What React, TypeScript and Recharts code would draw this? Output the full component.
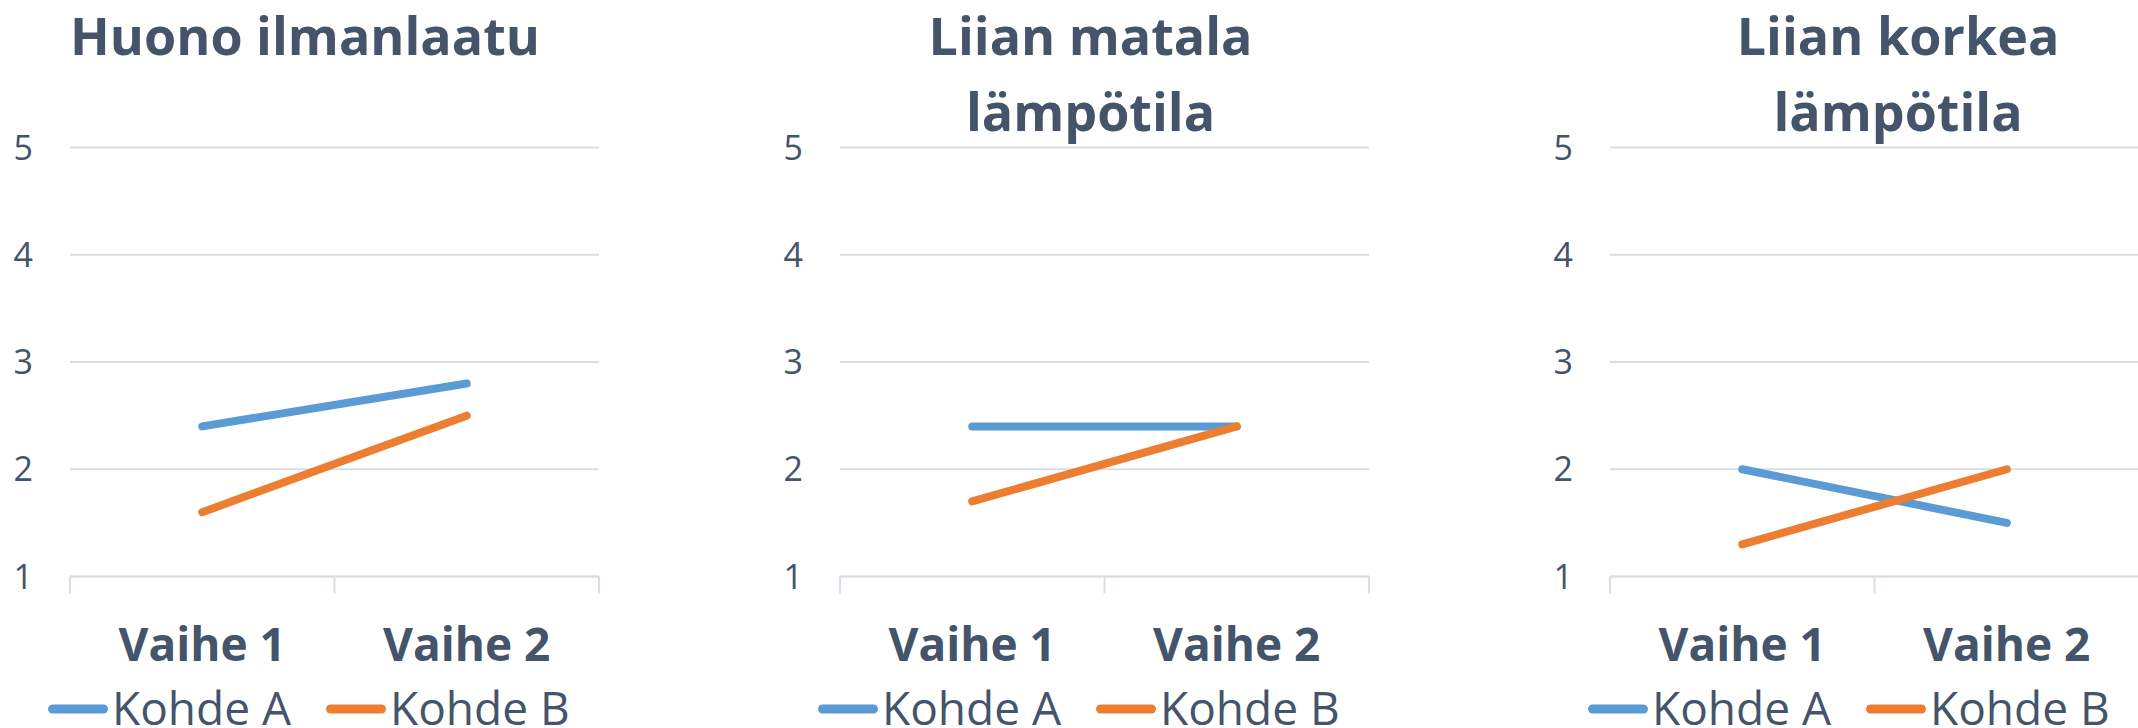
import React from "react";
import { LineChart, Line, XAxis, YAxis, CartesianGrid } from "recharts";

const CATEGORIES = ["Vaihe 1", "Vaihe 2"];
const SERIES = ["Kohde A", "Kohde B"];
const Y_TICKS = [1, 2, 3, 4, 5];

const TITLES = [
  ["Huono ilmanlaatu"],
  ["Liian matala", "lämpötila"],
  ["Liian korkea", "lämpötila"],
];

// values, one array per series per chart
const ILMANLAATU_A = [2.4, 2.8];
const ILMANLAATU_B = [1.6, 2.5];
const MATALA_A = [2.4, 2.4];
const MATALA_B = [1.7, 2.4];
const KORKEA_A = [2.0, 1.5];
const KORKEA_B = [1.3, 2.0];

const PANELS = [
  { title: TITLES[0], a: ILMANLAATU_A, b: ILMANLAATU_B },
  { title: TITLES[1], a: MATALA_A, b: MATALA_B },
  { title: TITLES[2], a: KORKEA_A, b: KORKEA_B },
];

const COLORS = ["#5B9BD5", "#ED7D31"];
const TEXT = "#44546A";
const GRID = "#D9DEE6";
const FONT = "'Open Sans', sans-serif";

// layout
const PANEL_W = 770;
const PANEL_H = 728;
const PLOT_LEFT = 70;
const PLOT_W = 529;
const PLOT_TOP = 147.6;
const PLOT_BOTTOM = 576.5;
const TITLE_X = [305, 320.5, 358];
const LEGEND_X = 48;

const XTick = (props: any) => {
  const { x, y, payload } = props;
  const v = payload.value;
  if (Number.isInteger(v)) {
    return <line x1={x} x2={x} y1={y} y2={y + 17} stroke={GRID} strokeWidth={2} />;
  }
  return (
    <text
      x={x}
      y={y + 84}
      textAnchor="middle"
      fill={TEXT}
      fontSize={46}
      fontWeight={700}
      fontFamily={FONT}
    >
      {CATEGORIES[Math.floor(v)]}
    </text>
  );
};

const Panel = ({ index }: { index: number }) => {
  const p = PANELS[index];
  const data = CATEGORIES.map((c, i) => ({ pos: i + 0.5, name: c, a: p.a[i], b: p.b[i] }));
  const xTicks = [0, 0.5, 1, 1.5, 2];

  return (
    <div
      style={{
        position: "absolute",
        left: index * PANEL_W,
        top: 0,
        width: PANEL_W,
        height: PANEL_H,
      }}
    >
      <LineChart
        width={PANEL_W}
        height={PANEL_H}
        data={data}
        margin={{ top: PLOT_TOP, right: PANEL_W - PLOT_LEFT - PLOT_W, bottom: 0, left: 0 }}
      >
        <CartesianGrid vertical={false} stroke={GRID} strokeWidth={2} />
        <XAxis
          type="number"
          dataKey="pos"
          domain={[0, 2]}
          ticks={xTicks}
          interval={0}
          height={PANEL_H - PLOT_BOTTOM}
          tickSize={0}
          tickMargin={0}
          tickLine={false}
          axisLine={{ stroke: GRID, strokeWidth: 2 }}
          tick={<XTick />}
        />
        <YAxis
          type="number"
          domain={[1, 5]}
          ticks={Y_TICKS}
          interval={0}
          width={PLOT_LEFT}
          axisLine={false}
          tickLine={false}
          tickSize={0}
          tickMargin={37}
          tick={{ fill: TEXT, fontSize: 34, fontFamily: FONT }}
        />
        <Line
          type="linear"
          dataKey="a"
          name={SERIES[0]}
          stroke={COLORS[0]}
          strokeWidth={8}
          strokeLinecap="round"
          dot={false}
          activeDot={false}
          isAnimationActive={false}
        />
        <Line
          type="linear"
          dataKey="b"
          name={SERIES[1]}
          stroke={COLORS[1]}
          strokeWidth={8}
          strokeLinecap="round"
          dot={false}
          activeDot={false}
          isAnimationActive={false}
        />
      </LineChart>
      <svg
        width={PANEL_W}
        height={PANEL_H}
        style={{ position: "absolute", left: 0, top: 0, pointerEvents: "none" }}
      >
        {p.title.map((line, j) => (
          <text
            key={line}
            x={TITLE_X[index]}
            y={55 + j * 76}
            textAnchor="middle"
            fill={TEXT}
            fontSize={52}
            fontWeight={700}
            fontFamily={FONT}
          >
            {line}
          </text>
        ))}
        {SERIES.map((s, i) => {
          const x0 = LEGEND_X + i * 278;
          return (
            <g key={s}>
              <line
                x1={x0 + 4.5}
                x2={x0 + 55.5}
                y1={709}
                y2={709}
                stroke={COLORS[i]}
                strokeWidth={9}
                strokeLinecap="round"
              />
              <text x={x0 + 64} y={725} fill={TEXT} fontSize={46} fontFamily={FONT}>
                {s}
              </text>
            </g>
          );
        })}
      </svg>
    </div>
  );
};

export default function App() {
  return (
    <div
      style={{
        position: "absolute",
        left: 0,
        top: 0,
        width: 2138,
        height: 728,
        overflow: "hidden",
        background: "#fff",
      }}
    >
      {PANELS.map((_, i) => (
        <Panel key={i} index={i} />
      ))}
    </div>
  );
}
